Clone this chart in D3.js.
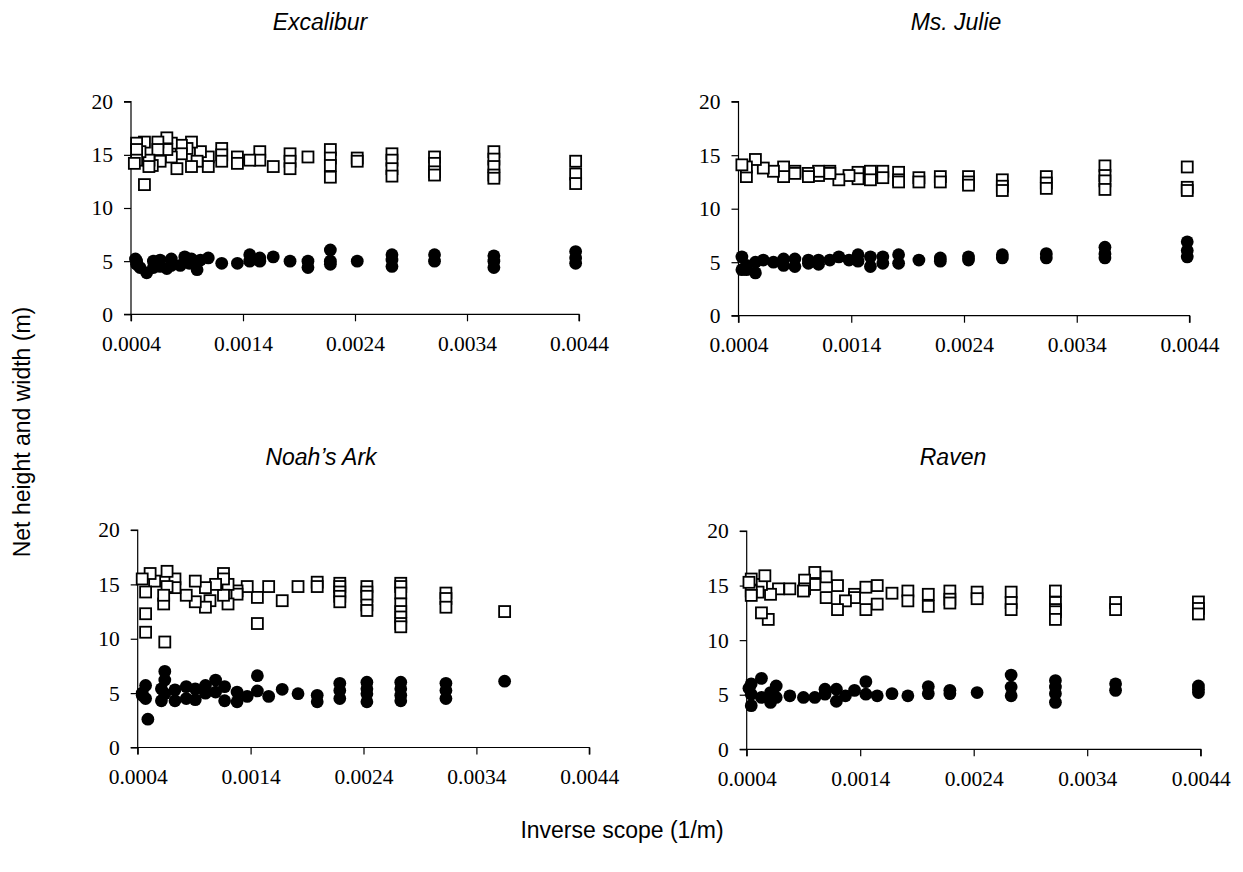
<!DOCTYPE html>
<html>
<head>
<meta charset="utf-8">
<script src="https://cdn.jsdelivr.net/npm/d3@7"></script>
<style>
  html, body { margin: 0; padding: 0; background: #fff; }
  svg { display: block; }
</style>
</head>
<body>
<svg id="chart" width="1243" height="872"></svg>
<script>
// ---------------- DATA ----------------
const panelTitles = ["Excalibur", "Ms. Julie", "Noah\u2019s Ark", "Raven"];
const xTickValues = [0.0004, 0.0014, 0.0024, 0.0034, 0.0044];
const yTickValues = [0, 5, 10, 15, 20];
const xAxisTitle = "Inverse scope (1/m)";
const yAxisTitle = "Net height and width (m)";

// Excalibur
const excaliburWidthX = [0.00437,0.00437,0.00437,0.00364,0.00364,0.00364,0.00364,0.00364,0.00311,0.00311,0.00311,0.00311,0.00273,0.00273,0.00273,0.00273,0.00242,0.00242,0.00218,0.00218,0.00218,0.00218,0.00198,0.00182,0.00182,0.00182,0.00167,0.00155,0.00155,0.00146,0.00135,0.00135,0.00121,0.00121,0.00121,0.00109,0.00109,0.00102,0.00099,0.00094,0.00094,0.0009,0.00085,0.00085,0.00081,0.00076,0.00076,0.00072,0.00072,0.00066,0.00064,0.00064,0.00059,0.00056,0.00056,0.00052,0.00052,0.00048,0.00045,0.00045,0.00045,0.00043];
const excaliburWidthY = [14.4,13.2,12.3,15.3,14.6,13.9,13.1,12.8,14.8,14.2,13.4,13.1,15.1,14.5,13.7,13.0,14.7,14.4,15.5,14.7,14.0,12.9,14.8,15.1,14.4,13.7,13.9,15.3,14.5,14.5,14.8,14.2,15.6,15.0,14.4,14.8,13.9,15.3,14.4,16.2,13.9,15.6,15.9,15.1,13.7,16.1,14.8,16.6,15.5,14.4,16.2,15.5,14.0,14.5,13.9,16.2,12.2,15.3,16.1,15.5,14.5,14.2];
const excaliburHeightX = [0.00437,0.00437,0.00437,0.00364,0.00364,0.00364,0.00311,0.00311,0.00273,0.00273,0.00273,0.00242,0.00218,0.00218,0.00218,0.00198,0.00198,0.00182,0.00167,0.00155,0.00155,0.00146,0.00146,0.00135,0.00121,0.00109,0.00102,0.00099,0.00094,0.00092,0.00088,0.00084,0.00076,0.00076,0.00072,0.00066,0.00066,0.0006,0.0006,0.00054,0.00048,0.00045,0.00045,0.00044];
const excaliburHeightY = [5.9,5.3,4.8,5.5,5.0,4.4,5.6,5.0,5.6,5.1,4.5,5.0,6.05,5.0,4.7,5.0,4.4,5.0,5.4,5.3,5.0,5.6,5.0,4.8,4.8,5.3,5.1,4.2,5.2,4.8,5.4,4.6,5.2,4.6,4.3,5.1,4.5,5.0,4.4,3.9,4.4,5.0,4.7,5.2];

// Ms. Julie
const julieWidthX = [0.00438,0.00438,0.00438,0.00365,0.00365,0.00365,0.00365,0.00313,0.00313,0.00313,0.00274,0.00274,0.00274,0.00244,0.00244,0.00244,0.00219,0.00219,0.0020,0.0020,0.00182,0.00182,0.00182,0.00168,0.00168,0.00157,0.00157,0.00146,0.00146,0.00138,0.00129,0.00121,0.00121,0.00111,0.00111,0.00102,0.00102,0.0009,0.0009,0.0008,0.0008,0.00071,0.00062,0.00055,0.00047,0.00047,0.00043];
const julieWidthY = [13.9,12.0,11.7,14.0,13.1,12.6,11.8,13.0,12.4,11.9,12.7,12.1,11.7,13.0,12.5,12.2,13.0,12.5,12.9,12.5,13.4,12.7,12.5,13.5,12.9,13.5,12.7,13.4,12.8,13.1,12.7,13.5,13.3,13.1,13.5,13.3,13.0,13.5,13.3,13.9,13.0,13.5,13.8,14.6,13.0,13.9,14.1];
const julieHeightX = [0.00438,0.00438,0.00438,0.00365,0.00365,0.00365,0.00313,0.00313,0.00274,0.00274,0.00244,0.00244,0.00219,0.00219,0.0020,0.00182,0.00182,0.00168,0.00168,0.00157,0.00157,0.00146,0.00146,0.00138,0.00129,0.00121,0.00111,0.00111,0.00102,0.00102,0.0009,0.0009,0.0008,0.0008,0.00071,0.00062,0.00055,0.00055,0.00047,0.00047,0.00043,0.00043];
const julieHeightY = [6.9,6.1,5.5,6.4,5.8,5.4,5.8,5.4,5.7,5.4,5.5,5.2,5.4,5.1,5.2,5.7,4.9,5.5,4.9,5.5,4.6,5.7,5.1,5.2,5.5,5.2,5.2,4.8,5.2,4.9,5.3,4.6,5.3,4.7,5.0,5.2,4.0,5.0,4.7,4.3,5.5,4.3];

// Noah's Ark
const noahWidthX = [0.00365,0.00313,0.00313,0.00313,0.00273,0.00273,0.00273,0.00273,0.00273,0.00273,0.00273,0.00273,0.00243,0.00243,0.00243,0.00243,0.00243,0.00219,0.00219,0.00219,0.00219,0.00219,0.00199,0.00199,0.00182,0.00168,0.00156,0.00146,0.00146,0.00137,0.00128,0.00128,0.0012,0.0012,0.00116,0.00116,0.00116,0.00109,0.00104,0.001,0.001,0.00091,0.00091,0.00083,0.00073,0.00073,0.00066,0.00066,0.00063,0.00063,0.00064,0.00055,0.00051,0.00047,0.00047,0.00047,0.00044];
const noahWidthY = [12.5,14.2,13.7,12.9,15.1,14.8,14.2,13.2,12.5,12.0,11.4,11.1,14.8,14.3,13.9,13.1,12.6,15.1,14.8,14.3,13.9,13.4,15.2,14.8,14.8,13.5,14.8,13.8,11.4,14.8,14.4,14.1,13.2,15.0,16.0,15.5,14.0,15.0,13.5,12.9,14.7,13.4,15.3,14.0,15.5,14.7,16.2,14.8,13.2,14.0,9.7,15.3,16.0,12.3,10.6,14.3,15.5];
const noahHeightX = [0.00365,0.00313,0.00313,0.00313,0.00273,0.00273,0.00273,0.00273,0.00243,0.00243,0.00243,0.00243,0.00219,0.00219,0.00219,0.00199,0.00199,0.00182,0.00168,0.00156,0.00146,0.00146,0.00137,0.00128,0.00128,0.00117,0.00117,0.00109,0.00109,0.001,0.001,0.00091,0.00091,0.00083,0.00083,0.00073,0.00073,0.00064,0.00064,0.00064,0.00061,0.00061,0.00049,0.00047,0.00047,0.00044,0.00044];
const noahHeightY = [6.1,5.9,5.25,4.5,6.0,5.4,4.8,4.3,6.0,5.4,4.95,4.2,5.9,5.25,4.5,4.8,4.2,4.95,5.35,4.7,6.6,5.2,4.7,5.1,4.2,5.6,4.3,6.2,5.1,5.7,5.0,5.4,4.4,5.6,4.5,5.3,4.3,7.0,6.2,4.95,4.3,5.4,2.6,5.7,4.5,5.0,4.8];

// Raven
const ravenWidthX = [0.00438,0.00438,0.00438,0.00365,0.00365,0.00312,0.00312,0.00312,0.00312,0.00312,0.00273,0.00273,0.00273,0.00243,0.00243,0.00219,0.00219,0.00219,0.002,0.002,0.00182,0.00182,0.00168,0.00155,0.00155,0.00145,0.00145,0.00135,0.00135,0.00127,0.0012,0.0012,0.0011,0.0011,0.001,0.001,0.00091,0.00091,0.0009,0.00078,0.00068,0.00061,0.00059,0.00053,0.00053,0.00056,0.0005,0.00044,0.00044,0.00044,0.00042];
const ravenWidthY = [13.5,12.9,12.4,13.45,12.8,14.5,13.45,12.8,12.6,11.9,14.4,13.45,12.8,14.4,13.8,14.5,13.75,13.4,14.2,13.1,14.5,13.6,14.3,15.0,13.3,14.85,12.8,14.2,13.9,13.6,15.0,12.8,15.8,13.9,16.2,15.1,15.5,14.7,14.5,14.7,14.7,14.2,11.9,12.5,15.1,15.9,14.4,15.6,14.5,14.1,15.3];
const ravenHeightX = [0.00438,0.00438,0.00438,0.00365,0.00365,0.00312,0.00312,0.00312,0.00312,0.00273,0.00273,0.00273,0.00243,0.00219,0.00219,0.002,0.002,0.00182,0.00168,0.00155,0.00145,0.00145,0.00135,0.00127,0.00119,0.00119,0.00109,0.00109,0.001,0.0009,0.00078,0.00066,0.00066,0.00061,0.00061,0.00053,0.00053,0.00044,0.00044,0.00044,0.00042];
const ravenHeightY = [5.8,5.5,5.2,6.0,5.4,6.3,5.7,5.1,4.3,6.8,5.7,4.9,5.2,5.4,5.1,5.75,5.1,4.9,5.1,4.9,6.2,5.05,5.4,4.9,4.4,5.5,5.5,5.05,4.75,4.75,4.9,4.75,5.8,5.2,4.3,6.5,4.75,6.0,4.0,5.05,5.6];

// ---------------- LAYOUT ----------------
const panels = [
  { title: panelTitles[0], wx: excaliburWidthX, wy: excaliburWidthY, hx: excaliburHeightX, hy: excaliburHeightY,
    x0: 131, x1: 579, yTop: 101.7, yBot: 314.3, tx: 320, ty: 22 },
  { title: panelTitles[1], wx: julieWidthX, wy: julieWidthY, hx: julieHeightX, hy: julieHeightY,
    x0: 738.5, x1: 1189.5, yTop: 101.7, yBot: 315.7, tx: 956, ty: 22 },
  { title: panelTitles[2], wx: noahWidthX, wy: noahWidthY, hx: noahHeightX, hy: noahHeightY,
    x0: 137.7, x1: 589.3, yTop: 530, yBot: 747.5, tx: 321, ty: 457 },
  { title: panelTitles[3], wx: ravenWidthX, wy: ravenWidthY, hx: ravenHeightX, hy: ravenHeightY,
    x0: 746.7, x1: 1200.7, yTop: 531, yBot: 749.3, tx: 953, ty: 457 }
];

const svg = d3.select("#chart");
const serif = "'Liberation Serif', 'Times New Roman', serif";
const sans = "'Liberation Sans', Arial, sans-serif";

panels.forEach(p => {
  const x = d3.scaleLinear().domain([0.0004, 0.0044]).range([p.x0, p.x1]);
  const y = d3.scaleLinear().domain([0, 20]).range([p.yBot, p.yTop]);
  const g = svg.append("g");

  // title
  g.append("text")
    .attr("x", p.tx).attr("y", p.ty)
    .attr("text-anchor", "middle").attr("dominant-baseline", "central")
    .style("font-family", sans).style("font-style", "italic").style("font-size", "23px")
    .text(p.title);

  // x axis
  const xAxis = d3.axisBottom(x).tickValues(xTickValues).tickSize(7).tickPadding(14)
    .tickFormat(d3.format(".4f"));
  const gx = g.append("g").attr("transform", `translate(0,${p.yBot})`).call(xAxis);
  // y axis
  const yAxis = d3.axisLeft(y).tickValues(yTickValues).tickSize(7).tickPadding(11);
  const gy = g.append("g").attr("transform", `translate(${p.x0},0)`).call(yAxis);

  [gx, gy].forEach(ax => {
    ax.select(".domain").attr("stroke", "#000").attr("stroke-width", 1.2);
    ax.selectAll(".tick line").attr("stroke", "#000").attr("stroke-width", 1.2);
    ax.selectAll(".tick text").attr("fill", "#000")
      .style("font-family", serif).style("font-size", "21.5px");
  });
  gx.select(".domain").attr("d", `M${p.x0},7V0H${p.x1}V7`);
  gy.select(".domain").attr("d", `M-7,${p.yTop}H0V${p.yBot}H-7`);

  // width (open squares)
  const side = 11;
  const wData = p.wx.map((v, i) => [v, p.wy[i]]);
  g.append("g").selectAll("rect").data(wData).join("rect")
    .attr("x", d => x(d[0]) - side / 2)
    .attr("y", d => y(d[1]) - side / 2)
    .attr("width", side).attr("height", side)
    .attr("fill", "#fff").attr("stroke", "#000").attr("stroke-width", 1.8);

  // height (filled circles)
  const hData = p.hx.map((v, i) => [v, p.hy[i]]);
  g.append("g").selectAll("circle").data(hData).join("circle")
    .attr("cx", d => x(d[0]))
    .attr("cy", d => y(d[1]))
    .attr("r", 6.4)
    .attr("fill", "#000");
});

// axis titles
svg.append("text")
  .attr("x", 622).attr("y", 830)
  .attr("text-anchor", "middle").attr("dominant-baseline", "central")
  .style("font-family", sans).style("font-size", "23px")
  .text(xAxisTitle);

svg.append("text")
  .attr("transform", "translate(22,432) rotate(-90)")
  .attr("text-anchor", "middle").attr("dominant-baseline", "central")
  .style("font-family", sans).style("font-size", "23px")
  .text(yAxisTitle);
</script>
</body>
</html>
